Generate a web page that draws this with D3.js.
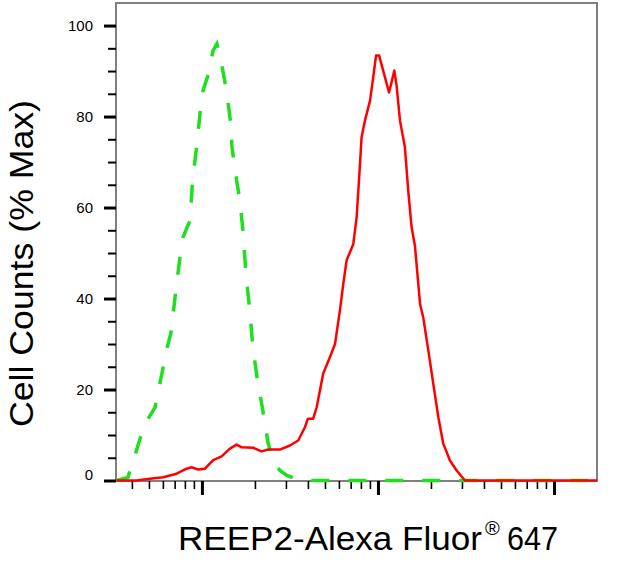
<!DOCTYPE html>
<html>
<head>
<meta charset="utf-8">
<script src="https://cdn.jsdelivr.net/npm/d3@7"></script>
<style>
  body { margin: 0; background: #fff; }
  svg { display: block; font-family: "Liberation Sans", Arial, sans-serif; }
</style>
</head>
<body>
<div id="hist"></div>
<script>
// Histograma de citometría

const WIDTH = 619
const HEIGHT = 567

// control (isotipo), linea verde discontinua
const controlX = [32.7, 38.0, 41.6, 44.5, 48.8, 54.1, 57.7, 60.0, 63.2, 66.7, 71.1, 75.0, 78.0,
  85.5, 88.5, 93.8, 97.5, 101.4, 109.6, 115.6, 121.6, 131.5, 136.8, 142.2, 146.2, 147.9, 152.1,
  158.1, 164.4, 171.0, 177.8, 182.4, 187.5, 195.0, 208.0, 219.3, 228.0, 237.1, 252.9, 277.3,
  304.1, 360.6, 17540]
const controlY = [0, 0.7, 5.5, 9.2, 13.2, 16.0, 21.3, 24.6, 29.0, 32.5, 41.8, 49.0, 53.4,
  57.1, 65.9, 74.1, 80.7, 85.7, 89.7, 94.5, 96.0, 90.1, 86.4, 81.8, 78.0, 73.6, 69.9,
  65.5, 61.5, 54.9, 45.5, 41.3, 36.9, 29.0, 21.3, 16.5, 12.5, 8.4, 4.4, 2.2,
  1.1, 0, 0]

// REEP2, linea roja
const sampleX = [32.7, 42.6, 50.7, 60.3, 71.8, 81.8, 87.3, 95.3, 104.0, 115.9, 129.4, 144.2,
  157.4, 168.3, 195.4, 218.3, 238.2, 277.3, 316.2, 352.4, 384.6, 399.9, 428.5, 448.7, 488.7,
  533.3, 570.2, 608.1, 635.3, 663.7, 724.4, 756.8, 790.7, 807.2, 843.3, 901.5, 939.7, 975.0,
  1016, 1096, 1156, 1239, 1276, 1334, 1422, 1486, 1552, 1622, 1734, 1807, 1932, 2061, 2203,
  2350, 2564, 2799, 3119, 4325, 17540]
const sampleY = [0, 0, 0.4, 0.7, 1.5, 2.6, 2.9, 2.4, 2.6, 4.5, 5.3, 7.0,
  7.9, 7.3, 7.2, 6.4, 6.8, 6.8, 7.7, 8.8, 11.7, 13.6, 13.6, 16.1, 23.5,
  27.1, 30.0, 37.4, 43.2, 48.4, 52.0, 57.9, 69.6, 75.5, 79.1, 83.5, 88.6, 93.4,
  93.4, 88.6, 85.3, 90.1, 86.8, 79.1, 73.3, 63.7, 55.7, 51.6, 38.8, 35.9, 28.6, 21.3, 13.9,
  8.1, 4.4, 2.2, 0, 0, 0]

const yMajorTicks = [0, 20, 40, 60, 80, 100]
const yMinorTicks = d3.range(0, 105, 5)
const xLabel = "REEP2-Alexa Fluor"
const xLabelSup = "®"
const xLabelEnd = "647"
const yLabel = "Cell Counts (% Max)"

const MARGIN = { top: 3, bot: 86, left: 116, right: 22 }

const SVG = d3.select("#hist")
  .append("svg")
  .attr("width", WIDTH)
  .attr("height", HEIGHT)

const xScale = d3.scaleLog()
  .domain([32.5, 17550])
  .range([MARGIN.left, WIDTH - MARGIN.right])

const yScale = d3.scaleLinear()
  .domain([0, 105])
  .range([HEIGHT - MARGIN.bot - 0.5, MARGIN.top - 0.2])

const plotBottom = HEIGHT - MARGIN.bot

// marco gris
SVG.append("rect")
  .attr("x", MARGIN.left)
  .attr("y", MARGIN.top)
  .attr("width", WIDTH - MARGIN.right - MARGIN.left)
  .attr("height", plotBottom - MARGIN.top)
  .attr("fill", "none")
  .attr("stroke", "#808080")
  .attr("stroke-width", 2)

// Ejes
const xTicks = xScale.ticks()
const isDecade = t => Math.abs(Math.log10(t) - Math.round(Math.log10(t))) < 1e-6

const xMinor = SVG.append("g")
  .attr("transform", `translate(0, ${plotBottom})`)
  .call(d3.axisBottom(xScale).tickValues(xTicks.filter(t => !isDecade(t))).tickSize(8).tickFormat(""))
xMinor.select(".domain").remove()
xMinor.selectAll("line").attr("stroke", "#000").attr("stroke-width", 1.6)

const xMajor = SVG.append("g")
  .attr("transform", `translate(0, ${plotBottom})`)
  .call(d3.axisBottom(xScale).tickValues(xTicks.filter(isDecade)).tickSize(14).tickFormat(""))
xMajor.select(".domain").remove()
xMajor.selectAll("line").attr("stroke", "#000").attr("stroke-width", 3)

const yMinor = SVG.append("g")
  .attr("transform", `translate(${MARGIN.left}, 0)`)
  .call(d3.axisLeft(yScale).tickValues(yMinorTicks.filter(t => !yMajorTicks.includes(t))).tickSize(8).tickFormat(""))
yMinor.select(".domain").remove()
yMinor.selectAll("line").attr("stroke", "#000").attr("stroke-width", 2)

const yMajor = SVG.append("g")
  .attr("transform", `translate(${MARGIN.left}, 0)`)
  .call(d3.axisLeft(yScale).tickValues(yMajorTicks).tickSize(12).tickPadding(11))
yMajor.select(".domain").remove()
yMajor.selectAll("line").attr("stroke", "#000").attr("stroke-width", 3)
yMajor.selectAll("text")
  .attr("font-size", 15)
  .attr("font-family", "Liberation Sans, Arial, sans-serif")
  .attr("fill", "#000")
  .attr("dy", d => d == 0 ? "-0.05em" : "0.32em")

// Curvas
const line = d3.line()
  .x(d => xScale(d[0]))
  .y(d => yScale(d[1]))

SVG.append("path")
  .datum(d3.zip(controlX, controlY))
  .attr("d", line)
  .attr("fill", "none")
  .attr("stroke", "#1ee01e")
  .attr("stroke-width", 3.5)
  .attr("stroke-dasharray", "18,19")

SVG.append("path")
  .datum(d3.zip(sampleX, sampleY))
  .attr("d", line)
  .attr("fill", "none")
  .attr("stroke", "#ff0000")
  .attr("stroke-width", 2.5)
  .attr("stroke-linejoin", "round")

// Titulos de ejes
SVG.append("text")
  .text(xLabel)
  .attr("x", 178)
  .attr("y", 550)
  .attr("font-size", 34)
  .attr("textLength", 304)
  .attr("lengthAdjust", "spacingAndGlyphs")

SVG.append("text")
  .text(xLabelSup)
  .attr("x", 485)
  .attr("y", 535)
  .attr("font-size", 20)

SVG.append("text")
  .text(xLabelEnd)
  .attr("x", 507)
  .attr("y", 550)
  .attr("font-size", 34)
  .attr("textLength", 51)
  .attr("lengthAdjust", "spacingAndGlyphs")

SVG.append("text")
  .text(yLabel)
  .attr("transform", "translate(33, 427) rotate(-90)")
  .attr("font-size", 33)
  .attr("textLength", 327)
  .attr("lengthAdjust", "spacingAndGlyphs")
</script>
</body>
</html>
